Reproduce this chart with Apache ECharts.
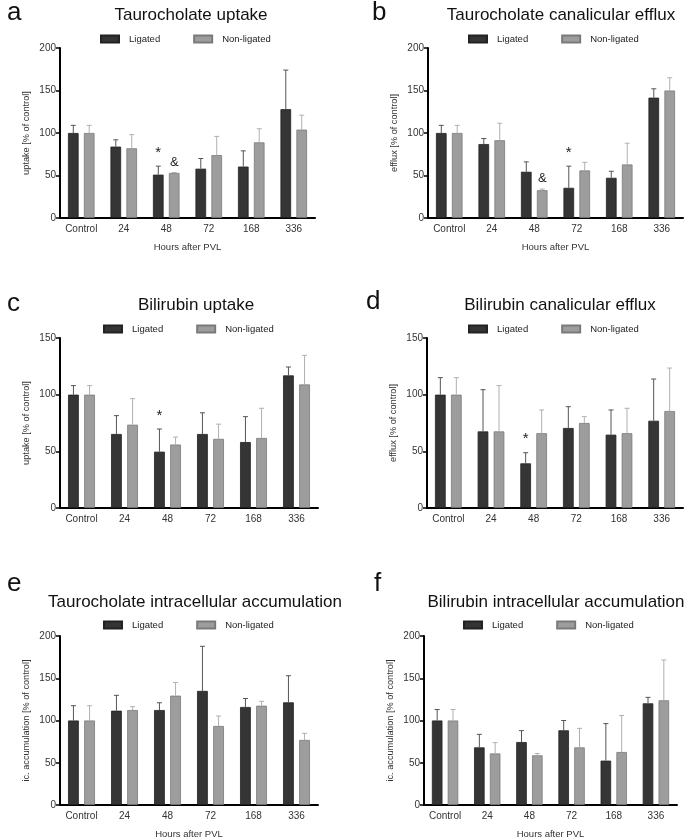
<!DOCTYPE html>
<html><head><meta charset="utf-8">
<script src="https://cdn.jsdelivr.net/npm/echarts@6/dist/echarts.min.js"></script>
<style>html,body{margin:0;padding:0;background:#fff}#c{width:685px;height:840px}</style>
</head><body><div id="c"></div>
<script>
const categories = ['Control', '24', '48', '72', '168', '336'];
const seriesNames = ['Ligated', 'Non-ligated'];

// Panel a: Taurocholate uptake
const aLig = [100, 84, 51, 58, 60.5, 128];
const aLigSd = [9, 8, 10, 12, 18.5, 46];
const aNon = [100, 82, 53, 74, 89, 104];
const aNonSd = [9, 16, 0.5, 22, 16, 17];
// Panel b: Taurocholate canalicular efflux
const bLig = [100, 87, 54.4, 35.5, 47.3, 141.6];
const bLigSd = [9, 6.5, 11.6, 25.5, 7.7, 10.4];
const bNon = [100, 91.5, 32.7, 56, 63, 150];
const bNonSd = [9, 20, 1.3, 9.5, 25, 15];
// Panel c: Bilirubin uptake
const cLig = [100, 65.3, 49.7, 65.3, 58.2, 117];
const cLigSd = [8, 16.2, 20, 18.7, 22.4, 7.4];
const cNon = [100, 73.5, 56, 61, 61.8, 109];
const cNonSd = [8, 23, 6.6, 13, 26.2, 25.7];
// Panel d: Bilirubin canalicular efflux
const dLig = [100, 67.6, 39.4, 70.6, 64.7, 77];
const dLigSd = [15, 36.8, 9.4, 18.8, 21.8, 36.8];
const dNon = [100, 67.6, 66, 75, 66, 85.6];
const dNonSd = [15, 40.4, 20.5, 5.6, 22, 37.9];
// Panel e: Taurocholate intracellular accumulation
const eLig = [100, 111.6, 112.4, 135, 116, 121.5];
const eLigSd = [17.5, 18.2, 8.6, 52.8, 10, 31.5];
const eNon = [100, 112.4, 129.4, 93.5, 117.5, 77];
const eNonSd = [17.5, 4, 15.6, 11.8, 5.2, 7.8];
// Panel f: Bilirubin intracellular accumulation
const fLig = [100, 68.2, 74.5, 88.4, 52.5, 120.3];
const fLigSd = [13, 15.4, 13.5, 11.6, 43.8, 7.1];
const fNon = [100, 61, 58.8, 68.2, 62.7, 123.9];
const fNonSd = [13, 12.8, 2.2, 22.5, 43.3, 47.7];

// Significance marks: [category, series (0 ligated, 1 non-ligated), symbol]
const aMarks = [['48', 0, '*'], ['48', 1, '&']];
const bMarks = [['48', 1, '&'], ['72', 0, '*']];
const cMarks = [['48', 0, '*']];
const dMarks = [['48', 0, '*']];
const eMarks = [];
const fMarks = [];

const yTicksA = [0, 50, 100, 150, 200];
const yTicksC = [0, 50, 100, 150];

const panels = [
  {letter: 'a', title: 'Taurocholate uptake', yName: 'uptake [% of control]', lig: aLig, ligSd: aLigSd, non: aNon, nonSd: aNonSd, marks: aMarks, ticks: yTicksA, xName: 'Hours after PVL',
   grid: {left: 60, top: 48, width: 255, height: 170}, titleX: 186, titleY: 2, letterX: 7, letterY: 0, legX: 95, legY: 29},
  {letter: 'b', title: 'Taurocholate canalicular efflux', yName: 'efflux [% of control]', lig: bLig, ligSd: bLigSd, non: bNon, nonSd: bNonSd, marks: bMarks, ticks: yTicksA, xName: 'Hours after PVL',
   grid: {left: 428, top: 48, width: 255, height: 170}, titleX: 556, titleY: 2, letterX: 372, letterY: 0, legX: 463, legY: 29},
  {letter: 'c', title: 'Bilirubin uptake', yName: 'uptake [% of control]', lig: cLig, ligSd: cLigSd, non: cNon, nonSd: cNonSd, marks: cMarks, ticks: yTicksC, xName: '',
   grid: {left: 60, top: 338, width: 258, height: 170}, titleX: 191, titleY: 292, letterX: 7, letterY: 291, legX: 98, legY: 319},
  {letter: 'd', title: 'Bilirubin canalicular efflux', yName: 'efflux [% of control]', lig: dLig, ligSd: dLigSd, non: dNon, nonSd: dNonSd, marks: dMarks, ticks: yTicksC, xName: '',
   grid: {left: 427, top: 338, width: 256, height: 170}, titleX: 555, titleY: 292, letterX: 366, letterY: 289, legX: 463, legY: 319},
  {letter: 'e', title: 'Taurocholate intracellular accumulation', yName: 'ic. accumulation [% of control]', lig: eLig, ligSd: eLigSd, non: eNon, nonSd: eNonSd, marks: eMarks, ticks: yTicksA, xName: 'Hours after PVL',
   grid: {left: 60, top: 636, width: 258, height: 169}, titleX: 190, titleY: 589, letterX: 7, letterY: 571, legX: 98, legY: 615},
  {letter: 'f', title: 'Bilirubin intracellular accumulation', yName: 'ic. accumulation [% of control]', lig: fLig, ligSd: fLigSd, non: fNon, nonSd: fNonSd, marks: fMarks, ticks: yTicksA, xName: 'Hours after PVL',
   grid: {left: 424, top: 636, width: 253, height: 169}, titleX: 551, titleY: 589, letterX: 374, letterY: 571, legX: 458, legY: 615}
];

const FONT = 'Liberation Sans, Arial, sans-serif';
const DARK = '#353535', LIGHT = '#9d9d9d';
const BAR_W = 0.25, GAP = 0.125;
const OFF = (BAR_W + GAP) / 2;

const option = {animation: false, title: [], legend: [], grid: [], xAxis: [], yAxis: [], series: [], graphic: []};

panels.forEach((p, i) => {
  option.grid.push(Object.assign({containLabel: false}, p.grid));
  option.title.push({text: p.title, left: p.titleX, top: p.titleY, textAlign: 'center',
    textStyle: {fontFamily: FONT, fontSize: 17, fontWeight: 'normal', color: '#111'}});
  option.graphic.push({type: 'text', left: p.letterX, top: p.letterY,
    style: {text: p.letter, font: '26px ' + FONT, fill: '#111'}});
  option.legend.push({data: seriesNames, left: p.legX, top: p.legY, icon: 'rect', itemWidth: 18, itemHeight: 7,
    itemGap: 33, selectedMode: false,
    textStyle: {fontFamily: FONT, fontSize: 9.5, color: '#222', padding: [0, 0, 0, 5]}});
  option.xAxis.push({type: 'category', gridIndex: i, data: categories,
    axisLine: {lineStyle: {color: '#000', width: 2}},
    axisTick: {alignWithLabel: true, interval: 0, length: 4, lineStyle: {color: '#000', width: 1.5}},
    axisLabel: {interval: 0, fontFamily: FONT, fontSize: 10, color: '#333', margin: 6},
    name: p.xName, nameLocation: 'middle', nameGap: 24,
    nameTextStyle: {fontFamily: FONT, fontSize: 9.5, color: '#333'}});
  const tks = p.ticks;
  option.yAxis.push({type: 'value', gridIndex: i, min: tks[0], max: tks[tks.length - 1], interval: tks[1] - tks[0],
    axisLine: {show: true, lineStyle: {color: '#000', width: 2}},
    axisTick: {show: true, length: 4, lineStyle: {color: '#000', width: 1.5}},
    splitLine: {show: false},
    axisLabel: {fontFamily: FONT, fontSize: 10, color: '#333', margin: 4},
    name: p.yName, nameLocation: 'middle', nameGap: 29, nameRotate: 90,
    nameTextStyle: {fontFamily: FONT, fontSize: 9.2, color: '#333'}});
  option.series.push({type: 'bar', name: 'Ligated', xAxisIndex: i, yAxisIndex: i, data: p.lig,
    barWidth: (BAR_W * 100) + '%', barGap: (GAP / BAR_W * 100) + '%',
    itemStyle: {color: DARK, borderColor: '#222', borderWidth: 0.8}});
  option.series.push({type: 'bar', name: 'Non-ligated', xAxisIndex: i, yAxisIndex: i, data: p.non,
    barWidth: (BAR_W * 100) + '%', barGap: (GAP / BAR_W * 100) + '%',
    itemStyle: {color: LIGHT, borderColor: '#7a7a7a', borderWidth: 0.8}});
  const errData = [];
  categories.forEach((c, k) => {
    errData.push([k, p.lig[k], p.ligSd[k], 0]);
    errData.push([k, p.non[k], p.nonSd[k], 1]);
  });
  option.series.push({type: 'custom', xAxisIndex: i, yAxisIndex: i, silent: true, z: 3,
    data: errData,
    renderItem: (params, api) => {
      const k = api.value(0), m = api.value(1), sd = api.value(2), side = api.value(3);
      const band = api.size([1, 0])[0];
      const x = api.coord([k, 0])[0] + (side === 0 ? -OFF : OFF) * band;
      const yb = api.coord([k, m])[1];
      const yt = api.coord([k, m + sd])[1];
      const col = side === 0 ? '#555' : '#b0b0b0';
      return {type: 'group', children: [
        {type: 'line', shape: {x1: x, y1: yb, x2: x, y2: yt}, style: {stroke: col, lineWidth: 1}},
        {type: 'line', shape: {x1: x - 2.5, y1: yt, x2: x + 2.5, y2: yt}, style: {stroke: col, lineWidth: 1}}
      ]};
    }});
  if (p.marks.length) {
    const markData = p.marks.map(mk => {
      const k = categories.indexOf(mk[0]);
      const top = mk[1] === 0 ? p.lig[k] + p.ligSd[k] : p.non[k] + p.nonSd[k];
      return [k, top, mk[1]];
    });
    option.series.push({type: 'custom', xAxisIndex: i, yAxisIndex: i, silent: true, z: 4,
      data: markData,
      renderItem: (params, api) => {
        const k = api.value(0), top = api.value(1), side = api.value(2);
        const band = api.size([1, 0])[0];
        const x = api.coord([k, 0])[0] + (side === 0 ? -OFF : OFF) * band;
        const y = api.coord([k, top])[1];
        const sym = p.marks[params.dataIndex][2];
        return {type: 'text', style: {text: sym, x: x, y: y - (sym === '*' ? 6 : 4), textAlign: 'center', textVerticalAlign: 'bottom',
          font: (sym === '*' ? '15px ' : '13px ') + FONT, fill: '#222'}};
      }});
  }
});

const chart = echarts.init(document.getElementById('c'), null, {renderer: 'canvas'});
chart.setOption(option);
</script></body></html>
